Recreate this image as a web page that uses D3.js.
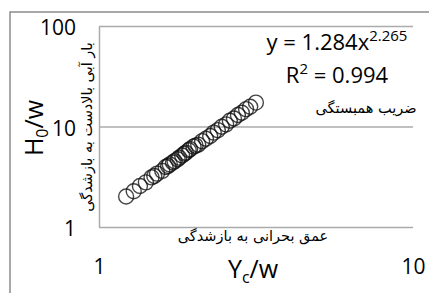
<!DOCTYPE html>
<html>
<head>
<meta charset="utf-8">
<style>
    body { margin: 0; background: #fff; }
    .grid line { stroke: #ababab; stroke-width: 1.5; }
    .grid path { stroke: #ababab; stroke-width: 1.5; }
    .tick text { font-family: "Open Sans", sans-serif; font-size: 21px; fill: #000; }
    .fa { font-family: "DejaVu Sans", sans-serif; font-size: 14.5px; fill: #000; }
    .big { font-family: "Open Sans", sans-serif; font-size: 25px; fill: #000; }
</style>
</head>
<body>
<svg width="429" height="293"></svg>
<script src="https://d3js.org/d3.v7.min.js"></script>
<script>
    // critical depth / opening  vs  upstream head / opening
    var xVals = [1.22, 1.29, 1.35, 1.41, 1.47, 1.50, 1.53, 1.59, 1.63, 1.66, 1.68, 1.72, 1.74, 1.78, 1.80, 1.84, 1.87, 1.89,
        1.93, 1.95, 2.00, 2.03, 2.07, 2.13, 2.19, 2.26, 2.32, 2.39, 2.46, 2.54, 2.61, 2.69, 2.77, 2.85, 2.94, 3.03, 3.16];
    var yVals = [2.01, 2.27, 2.56, 2.78, 3.12, 3.22, 3.40, 3.62, 3.95, 4.05, 4.20, 4.38, 4.52, 4.72, 4.90, 5.15, 5.35, 5.50,
        5.80, 5.95, 6.30, 6.45, 6.60, 7.15, 7.55, 8.05, 8.70, 9.20, 9.95, 10.5, 11.4, 12.0, 13.0, 13.7, 14.9, 15.7, 17.3];
    var xTicks = [1, 10];
    var yTicks = [1, 10, 100];

    var svg = d3.select("svg");

    // outer chart border
    svg.append("rect")
        .attr("x", 10).attr("y", 12)
        .attr("width", 500).attr("height", 400)
        .attr("fill", "none")
        .attr("stroke", "#8c8c8c")
        .attr("stroke-width", 1.5);

    var x = d3.scaleLog().domain([1, 10]).range([99, 413]);
    var y = d3.scaleLog().domain([1, 100]).range([227, 26]);

    // horizontal gridlines + left axis line
    svg.append("g")
        .attr("class", "grid")
        .attr("transform", "translate(99,0)")
        .call(d3.axisLeft(y).tickValues(yTicks).tickSize(-314).tickSizeOuter(0).tickFormat(""))
        .selectAll("line").attr("stroke", "#ababab");

    // y tick labels
    svg.append("g")
        .attr("transform", "translate(99,0)")
        .call(d3.axisLeft(y).tickValues(yTicks).tickSize(0).tickPadding(23).tickFormat(d3.format("d")))
        .call(g => g.select(".domain").remove())
        .selectAll("text").attr("dy", "0.42em");

    // x tick labels (sit well below the plot)
    svg.append("g")
        .attr("transform", "translate(0,259)")
        .call(d3.axisBottom(x).tickValues(xTicks).tickSize(0).tickPadding(0).tickFormat(d3.format("d")))
        .call(g => g.select(".domain").remove());

    // points
    var pts = xVals.map((v, i) => [v, yVals[i]]);
    svg.append("g")
        .selectAll("circle")
        .data(pts)
        .enter().append("circle")
        .attr("cx", d => x(d[0]))
        .attr("cy", d => y(d[1]))
        .attr("r", 7.5)
        .attr("fill", "none")
        .attr("stroke", "#111")
        .attr("stroke-opacity", 0.78)
        .attr("stroke-width", 1.4);

    // trend equation
    var eq = svg.append("text")
        .attr("x", 337).attr("y", 50)
        .attr("text-anchor", "middle")
        .style("font-family", "'Open Sans', sans-serif")
        .style("font-size", "22px");
    eq.append("tspan").text("y = 1.284x");
    eq.append("tspan").attr("dy", -9).style("font-size", "15px").text("2.265");

    var r2 = svg.append("text")
        .attr("x", 337).attr("y", 83)
        .attr("text-anchor", "middle")
        .style("font-family", "'Open Sans', sans-serif")
        .style("font-size", "22px");
    r2.append("tspan").text("R");
    r2.append("tspan").attr("dy", -9).style("font-size", "15px").text("2");
    r2.append("tspan").attr("dy", 9).text(" = 0.994");

    svg.append("text")
        .attr("class", "fa")
        .attr("x", 366).attr("y", 113)
        .attr("text-anchor", "middle")
        .text("ضریب همبستگی");

    // axis titles
    var yt = svg.append("text")
        .attr("class", "big")
        .attr("transform", "translate(43,128) rotate(-90)")
        .attr("text-anchor", "middle");
    yt.append("tspan").text("H");
    yt.append("tspan").attr("dy", 5).style("font-size", "16px").text("0");
    yt.append("tspan").attr("dy", -5).text("/w");

    svg.append("text")
        .attr("class", "fa")
        .attr("transform", "translate(92,127) rotate(-90)")
        .attr("text-anchor", "middle")
        .text("بار آبی بالادست به بازشدگی");

    var xt = svg.append("text")
        .attr("class", "big")
        .attr("x", 253).attr("y", 278)
        .attr("text-anchor", "middle");
    xt.append("tspan").text("Y");
    xt.append("tspan").attr("dy", 5).style("font-size", "16px").text("c");
    xt.append("tspan").attr("dy", -5).text("/w");

    svg.append("text")
        .attr("class", "fa")
        .attr("x", 253).attr("y", 241)
        .attr("text-anchor", "middle")
        .text("عمق بحرانی به بازشدگی");
</script>
</body>
</html>
